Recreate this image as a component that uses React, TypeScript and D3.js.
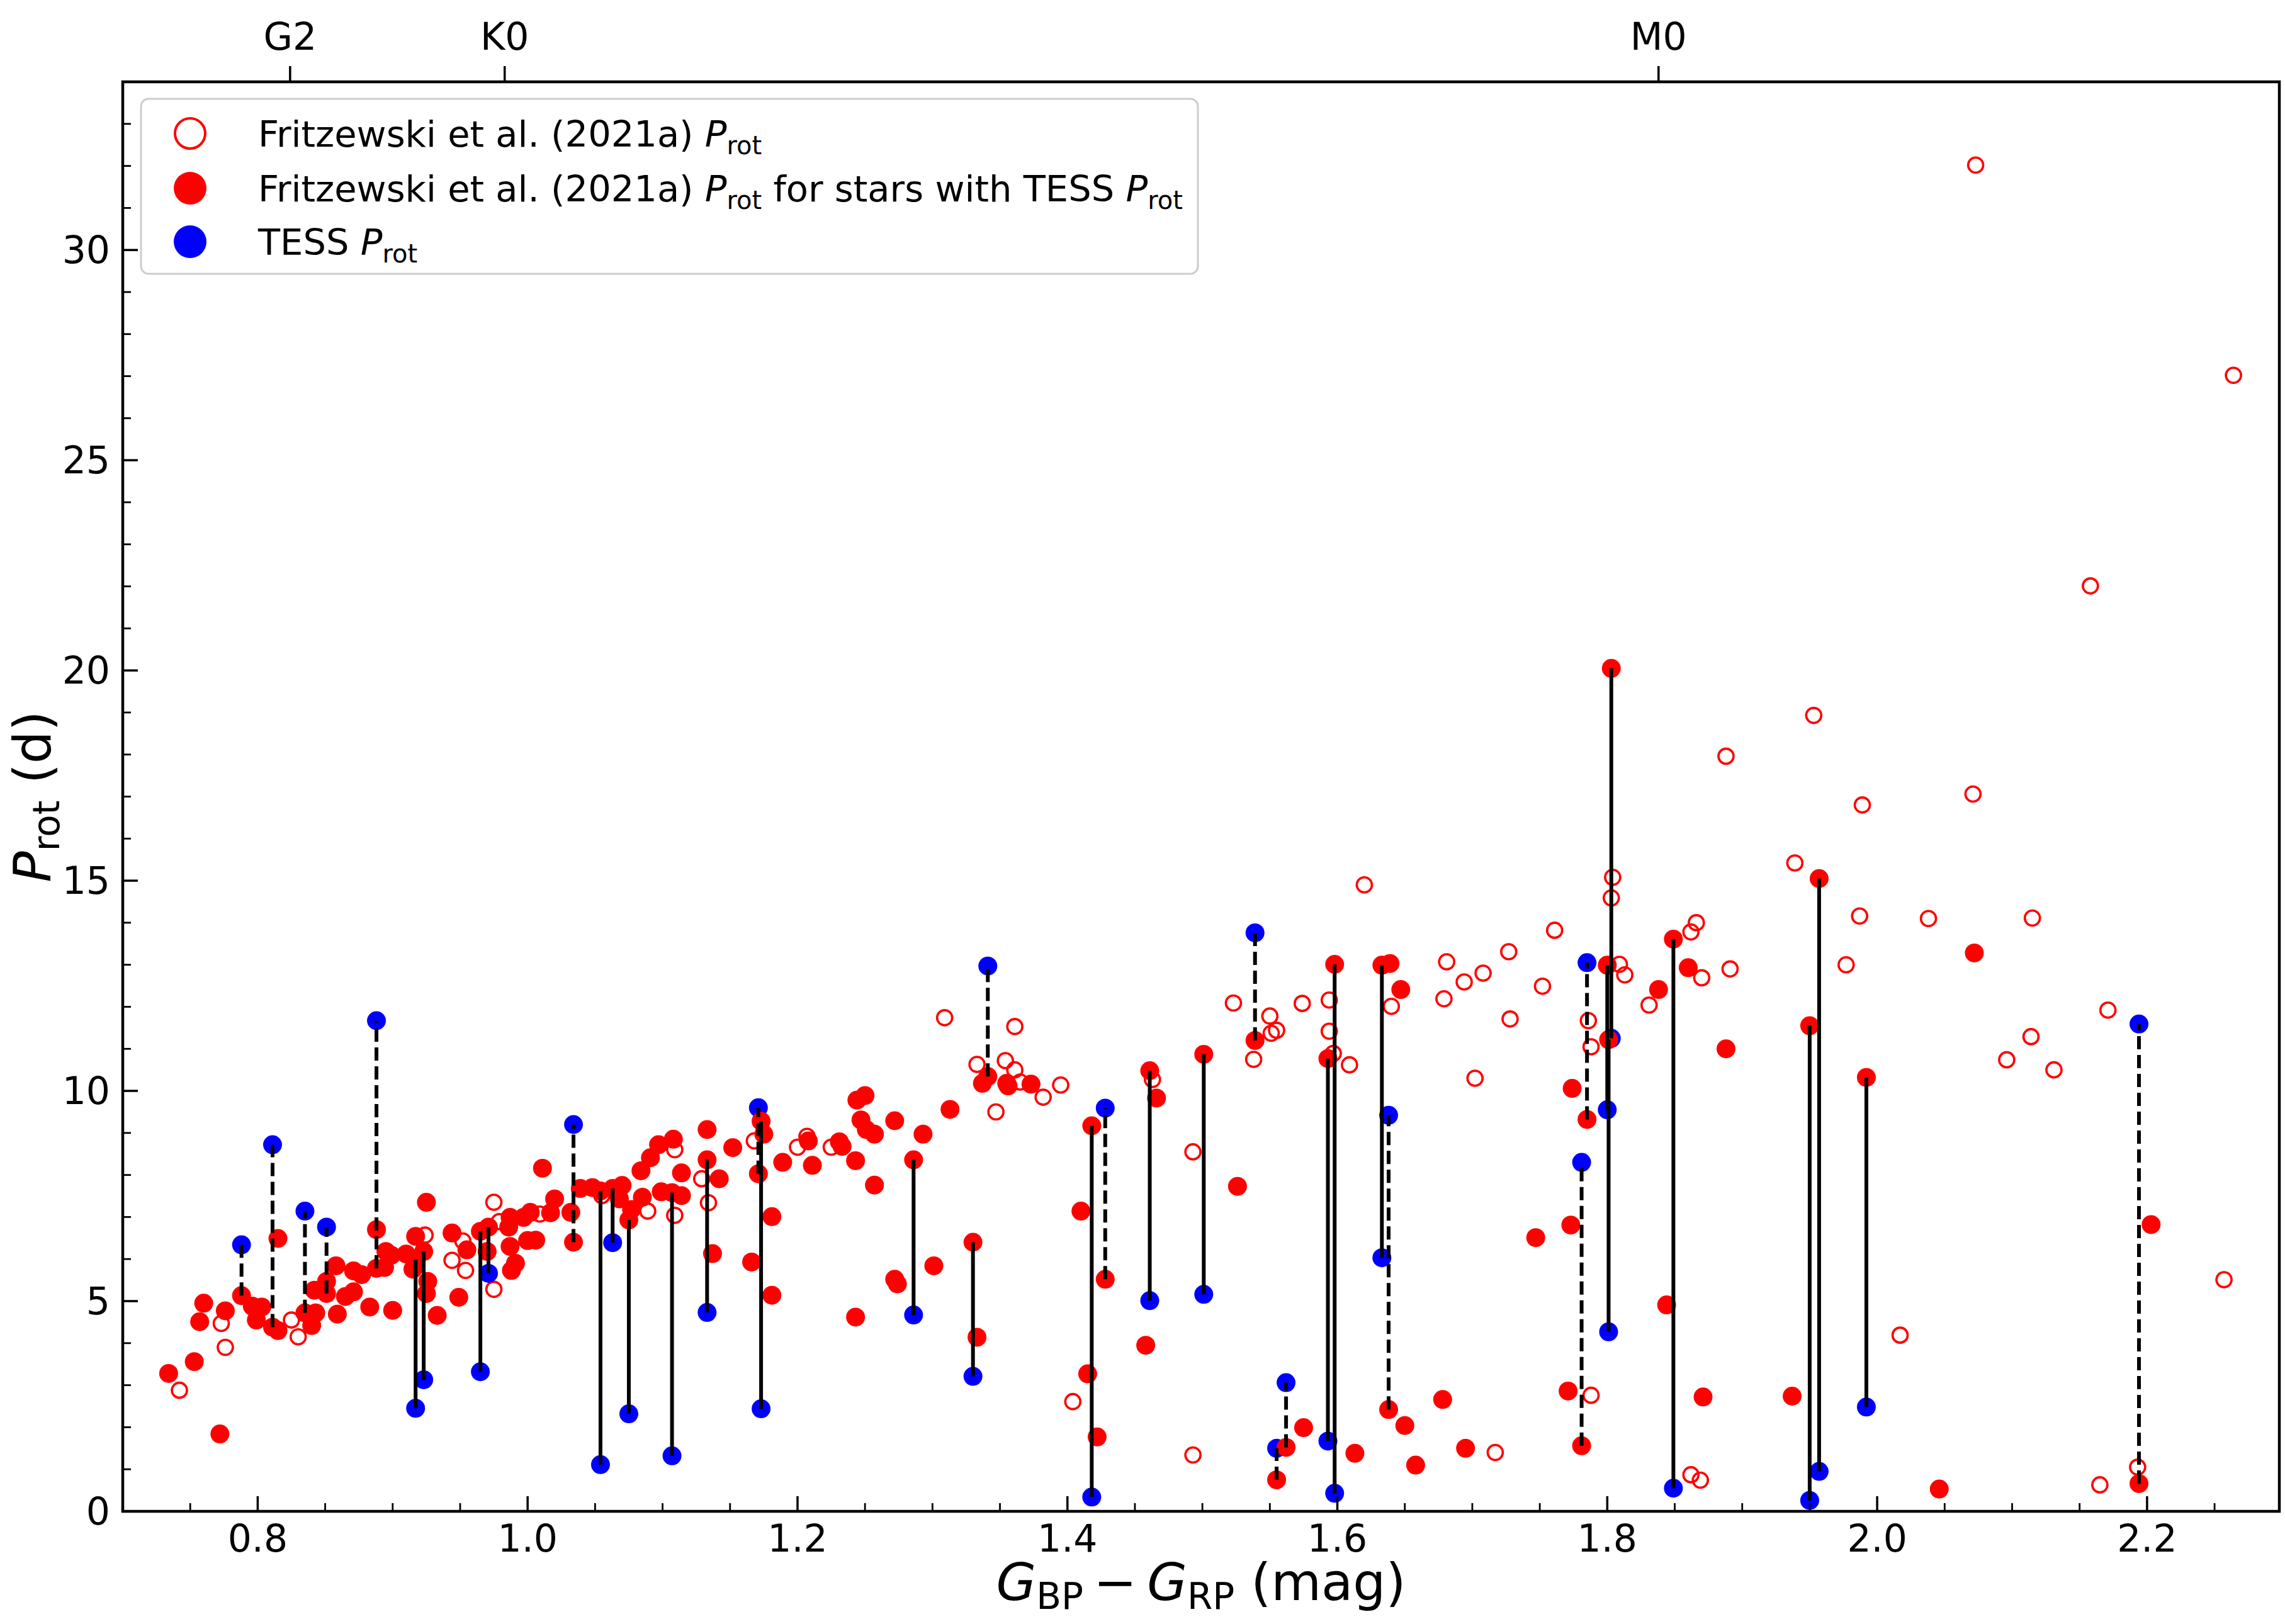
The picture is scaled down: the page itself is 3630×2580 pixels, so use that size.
import React, { useEffect } from "react";
import * as d3 from "d3";

// Fritzewski et al. (2021a) periods only (open circles)
const openColor = [0.742,0.773,0.776,0.825,0.830,0.924,0.944,0.952,0.954,0.975,0.975,0.979,1.009,1.055,1.089,1.109,1.109,1.129,1.134,1.168,1.200,1.207,1.225,1.309,1.333,1.354,1.361,1.361,1.365,1.382,1.395,1.347,1.404,1.463,1.493,1.493,1.523,1.538,1.550,1.551,1.555,1.574,1.594,1.594,1.597,1.609,1.620,1.640,1.681,1.679,1.694,1.708,1.717,1.702,1.727,1.728,1.761,1.752,1.786,1.788,1.788,1.803,1.804,1.809,1.813,1.831,1.862,1.866,1.870,1.891,1.862,1.869,1.953,1.888,1.989,2.071,1.939,1.987,2.038,2.115,1.977,2.171,2.114,2.096,2.131,2.193,2.257,2.017,2.165,2.073,2.264,2.158];
const openPeriod = [2.88,4.47,3.90,4.55,4.15,6.57,5.97,6.43,5.73,7.35,5.28,6.89,7.07,7.51,7.14,8.60,7.04,7.91,7.34,8.81,8.66,8.92,8.66,11.74,10.63,10.72,11.53,10.50,10.21,9.85,10.14,9.50,2.61,10.27,1.34,8.55,12.09,10.75,11.78,11.37,11.44,12.08,12.16,11.42,10.89,10.62,14.90,12.01,13.07,12.19,12.59,12.80,1.40,10.30,13.31,11.71,13.82,12.49,11.67,11.05,2.76,14.59,15.08,13.01,12.76,12.04,13.78,14.00,12.69,12.90,0.87,0.74,18.93,17.96,16.80,17.06,15.42,14.16,14.10,14.11,13.00,11.92,11.29,10.74,10.50,1.05,5.51,4.19,0.63,32.02,27.02,22.01];

// Stars with both a Fritzewski and a differing TESS period (connected)
const pairColor = [0.788,0.811,0.835,0.851,0.888,0.917,0.923,0.965,0.971,1.034,1.054,1.063,1.075,1.107,1.133,1.171,1.173,1.286,1.330,1.341,1.418,1.428,1.461,1.501,1.539,1.562,1.555,1.593,1.598,1.633,1.638,1.785,1.781,1.800,1.803,1.801,1.849,1.957,1.950,1.992,2.194];
const pairFritz = [5.13,4.38,4.72,5.18,5.78,5.99,6.18,6.66,6.76,6.40,7.62,7.68,6.93,7.58,8.36,8.03,9.28,8.36,6.40,10.34,9.17,5.52,10.48,10.87,11.20,1.52,0.75,10.77,13.01,12.99,2.42,9.32,1.56,12.99,20.05,11.22,13.61,15.05,11.55,10.32,0.66];
const pairTess = [6.34,8.72,7.14,6.76,11.67,2.45,3.13,3.32,5.66,9.20,1.11,6.39,2.32,1.32,4.73,9.60,2.44,4.67,3.21,12.97,0.34,9.59,5.01,5.16,13.76,3.06,1.50,1.67,0.43,6.03,9.42,13.05,8.30,9.55,11.25,4.27,0.55,0.95,0.26,2.48,11.59];

// Other stars with TESS periods (filled red, TESS value hidden beneath)
const filledColor = [0.734,0.753,0.757,0.760,0.772,0.776,0.796,0.803,0.799,0.815,0.815,0.843,0.840,0.842,0.851,0.858,0.859,0.865,0.871,0.871,0.877,0.883,0.888,0.894,0.895,0.899,0.900,0.910,0.917,0.915,0.925,0.926,0.925,0.933,0.944,0.949,0.955,0.970,0.987,0.986,0.987,0.991,0.988,0.997,1.002,1.000,1.006,1.011,1.017,1.020,1.032,1.039,1.048,1.070,1.068,1.077,1.084,1.085,1.091,1.097,1.108,1.099,1.114,1.114,1.133,1.142,1.137,1.152,1.175,1.166,1.181,1.181,1.189,1.211,1.208,1.231,1.233,1.243,1.243,1.244,1.250,1.247,1.251,1.257,1.257,1.272,1.272,1.274,1.293,1.301,1.313,1.333,1.337,1.355,1.356,1.373,1.410,1.415,1.422,1.466,1.458,1.526,1.575,1.613,1.639,1.647,1.650,1.658,1.678,1.695,1.747,1.774,1.773,1.771,1.838,1.844,1.860,1.888,1.871,2.072,1.937,2.046,2.203];
const filledPeriod = [3.28,3.56,4.51,4.95,1.84,4.77,4.88,4.86,4.55,4.30,6.49,4.72,4.42,5.26,5.47,5.84,4.69,5.11,5.22,5.72,5.63,4.86,6.70,5.80,6.18,6.09,4.78,6.12,6.54,5.76,7.35,5.47,5.18,4.66,6.62,5.09,6.22,6.18,6.99,6.76,6.30,5.90,5.73,6.99,7.11,6.44,6.45,8.16,7.10,7.43,7.11,7.68,7.70,7.75,7.43,7.18,8.10,7.47,8.41,8.72,8.85,7.60,8.05,7.51,9.08,7.91,6.13,8.65,8.97,5.93,7.01,5.14,8.30,8.23,8.81,8.79,8.68,8.34,4.62,9.78,9.89,9.31,9.08,8.97,7.76,9.29,5.52,5.41,8.97,5.84,9.56,4.14,10.18,10.18,10.12,10.16,7.14,3.27,1.77,9.83,3.95,7.73,1.99,1.38,13.03,12.41,2.04,1.10,2.66,1.50,6.51,10.06,6.81,2.86,12.41,4.91,12.93,11.00,2.72,13.28,2.74,0.53,6.82];

const xMajorTicks = [0.8, 1.0, 1.2, 1.4, 1.6, 1.8, 2.0, 2.2];
const yMajorTicks = [0, 5, 10, 15, 20, 25, 30];
const spTypeLabels = ["G2", "K0", "M0"];
const spTypeColors = [0.824, 0.983, 1.838];

const W = 3630, H = 2580;
const L = 195, R = 3621, T = 130, B = 2401;
const FONT = "DejaVu Sans, Verdana, sans-serif";

export default function App() {
  useEffect(() => {
    document.body.style.margin = "0";
  }, []);

  const x = d3.scaleLinear().domain([0.70, 2.298]).range([L, R]);
  const y = d3.scaleLinear().domain([0, 34]).range([B, T]);

  const xMinor = d3.range(0.70, 2.2981, 0.05).map((v) => +v.toFixed(2)).filter((v) => !xMajorTicks.includes(v) && v > 0.701);
  const yMinor = d3.range(0, 34.01, 1).filter((v) => v % 5 !== 0);

  const pairs = pairColor.map((c, i) => ({ c, f: pairFritz[i], t: pairTess[i] }));
  const opens = openColor.map((c, i) => ({ c, p: openPeriod[i] }));
  const filled = filledColor.map((c, i) => ({ c, p: filledPeriod[i] }));

  const SUB = 58, SHIFT = 14;
  const sub = (t: string) => (
    <tspan fontSize={SUB} dy={SHIFT}>{t}</tspan>
  );

  return (
    <svg width={W} height={H} style={{ display: "block", background: "#fff" }} fontFamily={FONT}>
      <rect x={0} y={0} width={W} height={H} fill="#fff" />
      {opens.map((d, i) => (
        <circle key={"o" + i} cx={x(d.c)} cy={y(d.p)} r={12} fill="none" stroke="#ff0000" strokeWidth={3.6} />
      ))}
      {pairs.map((d, i) => (
        <circle key={"b" + i} cx={x(d.c)} cy={y(d.t)} r={15} fill="#0000ff" />
      ))}
      {filled.map((d, i) => (
        <circle key={"f" + i} cx={x(d.c)} cy={y(d.p)} r={15} fill="#ff0000" />
      ))}
      {pairs.map((d, i) => (
        <circle key={"pf" + i} cx={x(d.c)} cy={y(d.f)} r={15} fill="#ff0000" />
      ))}
      {pairs.map((d, i) => (
        <line key={"l" + i} x1={x(d.c)} x2={x(d.c)} y1={y(d.f)} y2={y(d.t)} stroke="#000" strokeWidth={6}
          strokeDasharray={d.t > d.f ? "21 9" : undefined} />
      ))}

      <rect x={L} y={T} width={R - L} height={B - T} fill="none" stroke="#000" strokeWidth={4.5} />

      {xMajorTicks.map((v) => (
        <g key={"xt" + v}>
          <line x1={x(v)} x2={x(v)} y1={B} y2={B - 24} stroke="#000" strokeWidth={3.5} />
          <text x={x(v)} y={2465} fontSize={60} textAnchor="middle">{v.toFixed(1)}</text>
        </g>
      ))}
      {xMinor.map((v) => (
        <line key={"xm" + v} x1={x(v)} x2={x(v)} y1={B} y2={B - 13} stroke="#000" strokeWidth={2.8} />
      ))}
      {yMajorTicks.map((v) => (
        <g key={"yt" + v}>
          <line x1={L} x2={L + 24} y1={y(v)} y2={y(v)} stroke="#000" strokeWidth={3.5} />
          <text x={L - 20} y={y(v) + 21} fontSize={60} textAnchor="end">{v}</text>
        </g>
      ))}
      {yMinor.map((v) => (
        <line key={"ym" + v} x1={L} x2={L + 13} y1={y(v)} y2={y(v)} stroke="#000" strokeWidth={2.8} />
      ))}
      {spTypeColors.map((v, i) => (
        <g key={"sp" + i}>
          <line x1={x(v)} x2={x(v)} y1={T} y2={T - 25} stroke="#000" strokeWidth={3.5} />
          <text x={x(v)} y={79} fontSize={60} textAnchor="middle">{spTypeLabels[i]}</text>
        </g>
      ))}

      <text x={(L + R) / 2} y={2542} fontSize={82} textAnchor="middle">
        <tspan fontStyle="italic">G</tspan>
        {sub("BP")}
        <tspan dy={-SHIFT}>{"\u2009−\u2009"}</tspan>
        <tspan fontStyle="italic">G</tspan>
        {sub("RP")}
        <tspan dy={-SHIFT}> (mag)</tspan>
      </text>
      <text transform={`translate(80, ${(T + B) / 2}) rotate(-90)`} fontSize={82} textAnchor="middle">
        <tspan fontStyle="italic">P</tspan>
        {sub("rot")}
        <tspan dy={-SHIFT}> (d)</tspan>
      </text>

      <g>
        <rect x={224} y={157} width={1679} height={278} rx={12} fill="#fff" fillOpacity={0.8} stroke="#cccccc" strokeWidth={3} />
        <circle cx={302} cy={212} r={24} fill="none" stroke="#ff0000" strokeWidth={4} />
        <circle cx={302} cy={299} r={26} fill="#ff0000" />
        <circle cx={302} cy={384} r={26} fill="#0000ff" />
        <text x={410} y={233} fontSize={57.5}>
          Fritzewski et al. (2021a) <tspan fontStyle="italic">P</tspan>
          <tspan fontSize={40} dy={12}>rot</tspan>
        </text>
        <text x={410} y={320} fontSize={57.5}>
          Fritzewski et al. (2021a) <tspan fontStyle="italic">P</tspan>
          <tspan fontSize={40} dy={12}>rot</tspan>
          <tspan dy={-12}> for stars with TESS </tspan>
          <tspan fontStyle="italic">P</tspan>
          <tspan fontSize={40} dy={12}>rot</tspan>
        </text>
        <text x={410} y={405} fontSize={57.5}>
          TESS <tspan fontStyle="italic">P</tspan>
          <tspan fontSize={40} dy={12}>rot</tspan>
        </text>
      </g>
    </svg>
  );
}
